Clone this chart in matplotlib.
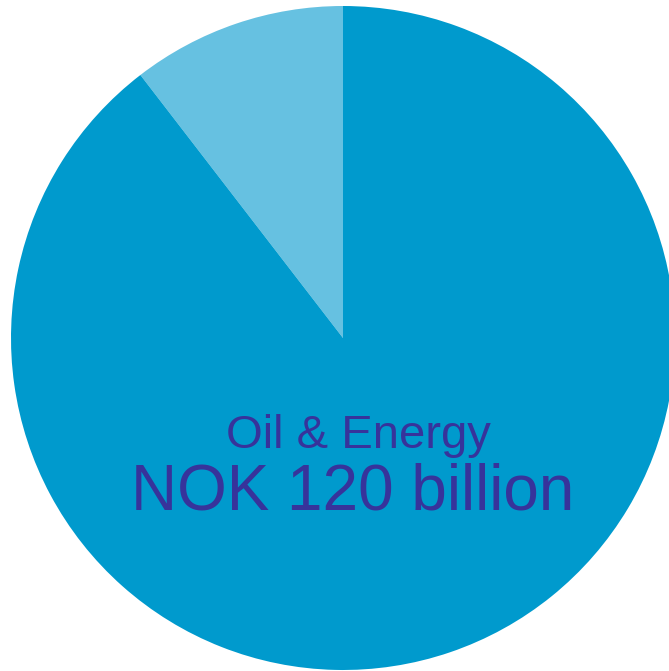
import matplotlib
matplotlib.use('Agg')
import matplotlib.pyplot as plt

# segment values, NOK billion
segments = ['Other', 'Oil & Energy']
values = [14, 120]
colors = ['#66C1E1', '#009ACD']
text_color = '#37339B'

W, H = 669, 671
cx, cy, r = 343, 338, 332

fig = plt.figure(figsize=(W / 100, H / 100), dpi=100)
ax = fig.add_axes([0, 0, 1, 1])
ax.pie(values, colors=colors, startangle=90, counterclock=True,
       radius=1, center=(0, 0), wedgeprops=dict(linewidth=0))
ax.set_xlim(-cx / r, (W - cx) / r)
ax.set_ylim(-(H - cy) / r, cy / r)
ax.set_aspect('auto')
ax.axis('off')

fig.text(358.5 / W, 1 - 448 / H, segments[1], color=text_color,
         family='Liberation Sans', fontsize=34, ha='center', va='baseline')
fig.text(352.5 / W, 1 - 510 / H, 'NOK {} billion'.format(values[1]), color=text_color,
         family='Liberation Sans', fontsize=46, ha='center', va='baseline')

fig.savefig('out.png', dpi=100)
